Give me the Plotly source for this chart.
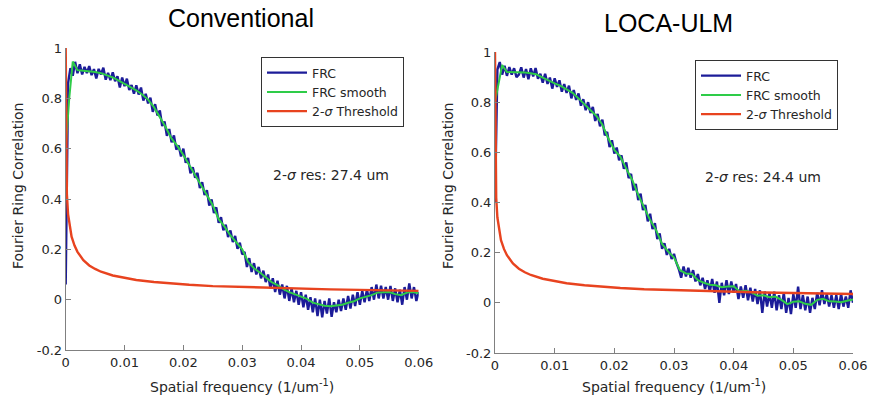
import plotly.graph_objects as go

# ---------------- data ----------------
TITLES = ["Conventional", "LOCA-ULM"]
RES_TEXT = ["2-<i>σ</i> res: 27.4 um", "2-<i>σ</i> res: 24.4 um"]
X_TICKS = [0, 0.01, 0.02, 0.03, 0.04, 0.05, 0.06]
X_TICK_LABELS = ["0", "0.01", "0.02", "0.03", "0.04", "0.05", "0.06"]
Y_TICKS = [-0.2, 0, 0.2, 0.4, 0.6, 0.8, 1]
Y_TICK_LABELS = ["-0.2", "0", "0.2", "0.4", "0.6", "0.8", "1"]

# raw FRC sampled every 0.0004 (1/um) from 0 to 0.06
frc_x = [round(0.0004 * i, 4) for i in range(151)]

frc_conv = [
    0.06, 0.86, 0.92, 0.89, 0.945, 0.90, 0.935, 0.895, 0.925, 0.90,
    0.928, 0.892, 0.916, 0.879, 0.917, 0.895, 0.922, 0.874, 0.901, 0.872,
    0.903, 0.868, 0.888, 0.843, 0.883, 0.848, 0.878, 0.833, 0.853, 0.818,
    0.852, 0.815, 0.843, 0.791, 0.818, 0.78, 0.803, 0.746, 0.777, 0.732,
    0.752, 0.69, 0.708, 0.651, 0.678, 0.625, 0.653, 0.596, 0.613, 0.569,
    0.60, 0.544, 0.563, 0.502, 0.526, 0.485, 0.504, 0.443, 0.467, 0.416,
    0.435, 0.374, 0.398, 0.344, 0.367, 0.305, 0.328, 0.276, 0.298, 0.249,
    0.275, 0.229, 0.253, 0.202, 0.226, 0.18, 0.19, 0.13, 0.165, 0.11,
    0.145, 0.10, 0.13, 0.085, 0.115, 0.07, 0.10, 0.045, 0.085, 0.03,
    0.075, 0.02, 0.06, 0.005, 0.055, -0.005, 0.045, -0.01, 0.035, -0.02,
    0.03, -0.03, 0.02, -0.04, 0.01, -0.05, 0.005, -0.065, 0.0, -0.07,
    -0.005, -0.055, 0.005, -0.068, -0.01, -0.05, 0.0, -0.045, 0.005, -0.04,
    0.015, -0.035, 0.02, -0.025, 0.03, -0.02, 0.035, -0.01, 0.04, -0.005,
    0.05, 0.0, 0.06, 0.005, 0.055, 0.005, 0.05, 0.0, 0.055, -0.005,
    0.045, -0.01, 0.04, -0.02, 0.05, 0.0, 0.065, 0.005, 0.05, -0.005,
    0.03,
]

frc_loca = [
    0.40, 0.93, 0.96, 0.91, 0.945, 0.905, 0.94, 0.91, 0.935, 0.90,
    0.91, 0.939, 0.898, 0.932, 0.891, 0.935, 0.903, 0.936, 0.893, 0.913,
    0.878, 0.913, 0.873, 0.898, 0.854, 0.895, 0.861, 0.887, 0.842, 0.872,
    0.837, 0.866, 0.815, 0.848, 0.809, 0.835, 0.786, 0.812, 0.768, 0.80,
    0.757, 0.781, 0.725, 0.753, 0.704, 0.73, 0.668, 0.681, 0.621, 0.648,
    0.595, 0.619, 0.568, 0.588, 0.534, 0.56, 0.497, 0.514, 0.448, 0.474,
    0.41, 0.435, 0.37, 0.39, 0.325, 0.355, 0.294, 0.318, 0.254, 0.277,
    0.215, 0.238, 0.191, 0.215, 0.175, 0.195, 0.16, 0.135, 0.10, 0.145,
    0.105, 0.14, 0.10, 0.13, 0.085, 0.115, 0.07, 0.10, 0.055, 0.09,
    0.045, 0.095, 0.04, 0.085, 0.0, 0.08, 0.03, 0.09, 0.035, 0.085,
    0.04, 0.075, 0.015, 0.065, 0.02, 0.07, 0.01, 0.06, 0.005, 0.055,
    -0.005, 0.05, -0.04, 0.045, -0.015, 0.04, -0.02, 0.045, -0.03, 0.03,
    -0.025, 0.04, -0.04, 0.02, -0.045, 0.035, -0.02, 0.065, -0.025, 0.03,
    -0.03, 0.025, -0.04, 0.02, -0.025, 0.04, -0.01, 0.05, -0.005, 0.035,
    -0.015, 0.03, -0.02, 0.03, -0.025, 0.035, -0.015, 0.025, -0.02, 0.05,
    0.0,
]

# smoothed FRC
smooth_x = [0, 0.0006, 0.0012, 0.002, 0.003, 0.004, 0.005, 0.006, 0.007, 0.008,
            0.009, 0.010, 0.011, 0.012, 0.013, 0.014, 0.015, 0.016, 0.017, 0.018,
            0.019, 0.020, 0.021, 0.022, 0.023, 0.024, 0.025, 0.026, 0.027, 0.028,
            0.029, 0.030, 0.031, 0.032, 0.033, 0.034, 0.035, 0.036, 0.037, 0.038,
            0.039, 0.040, 0.041, 0.042, 0.043, 0.044, 0.045, 0.046, 0.047, 0.048,
            0.049, 0.050, 0.051, 0.052, 0.053, 0.054, 0.055, 0.056, 0.057, 0.058,
            0.059, 0.060]

smooth_conv = [0.60, 0.80, 0.946, 0.912, 0.91, 0.908, 0.905, 0.90, 0.893, 0.883,
               0.87, 0.858, 0.846, 0.832, 0.815, 0.795, 0.765, 0.727, 0.685, 0.64,
               0.61, 0.575, 0.535, 0.495, 0.455, 0.415, 0.375, 0.32, 0.29, 0.255,
               0.228, 0.20, 0.15, 0.125, 0.108, 0.09, 0.07, 0.058, 0.042, 0.03,
               0.02, 0.012, 0.003, -0.012, -0.018, -0.024, -0.026, -0.022, -0.02, -0.012,
               -0.006, 0.005, 0.01, 0.018, 0.028, 0.03, 0.03, 0.022, 0.018, 0.028,
               0.03, 0.025]

smooth_loca = [0.80, 0.88, 0.948, 0.92, 0.92, 0.92, 0.918, 0.915, 0.91, 0.898,
               0.885, 0.875, 0.865, 0.852, 0.837, 0.815, 0.792, 0.772, 0.745, 0.71,
               0.655, 0.61, 0.583, 0.535, 0.49, 0.43, 0.38, 0.33, 0.29, 0.235,
               0.205, 0.18, 0.13, 0.117, 0.115, 0.09, 0.08, 0.072, 0.07, 0.062,
               0.065, 0.066, 0.045, 0.048, 0.042, 0.028, 0.03, 0.022, 0.025, 0.012,
               -0.005, 0.004, 0.006, -0.004, -0.008, 0.012, 0.016, 0.006, 0.005, 0.002,
               0.008, 0.013]

# 2-sigma threshold curve
thr_x = [0, 0.0001, 0.0002, 0.0004, 0.0007, 0.001, 0.0015, 0.002, 0.003, 0.004,
         0.005, 0.006, 0.008, 0.010, 0.012, 0.015, 0.018, 0.021, 0.025, 0.030,
         0.035, 0.040, 0.045, 0.050, 0.055, 0.060]
thr_y = [1.0, 0.55, 0.42, 0.34, 0.29, 0.25, 0.215, 0.19, 0.157, 0.136,
         0.122, 0.111, 0.096, 0.086, 0.078, 0.070, 0.064, 0.059, 0.054, 0.050,
         0.046, 0.043, 0.041, 0.039, 0.037, 0.035]

# ---------------- styling ----------------
W, H = 870, 406
BLUE, GREEN, RED = "#1c1c99", "#2ecc48", "#e8431f"
FONT = "DejaVu Sans"
TXT = "#262626"
AX = "#808080"

panels = [
    dict(frc=frc_conv, smooth=smooth_conv, px=(65.7, 418.7), py=(48, 350),
         title_xy=(241, 18), res_xy=(331, 175), leg_xy=(261, 57), ylab_x=18),
    dict(frc=frc_loca, smooth=smooth_loca, px=(495, 853), py=(52, 353),
         title_xy=(668, 23), res_xy=(763, 177), leg_xy=(695, 60), ylab_x=448),
]

fig = go.Figure()
annotations = []
for k, p in enumerate(panels):
    sfx = "" if k == 0 else str(k + 1)
    leg = "legend" if k == 0 else "legend2"
    xa, ya = "x" + sfx, "y" + sfx
    fig.add_trace(go.Scatter(x=frc_x, y=p["frc"], mode="lines", name="FRC",
                             line=dict(color=BLUE, width=2.4), xaxis=xa, yaxis=ya, legend=leg))
    fig.add_trace(go.Scatter(x=smooth_x, y=p["smooth"], mode="lines", name="FRC smooth",
                             line=dict(color=GREEN, width=2), xaxis=xa, yaxis=ya, legend=leg))
    fig.add_trace(go.Scatter(x=thr_x, y=thr_y, mode="lines", name="2-<i>σ</i> Threshold",
                             line=dict(color=RED, width=2.4), xaxis=xa, yaxis=ya, legend=leg))

    xdom = [p["px"][0] / W, p["px"][1] / W]
    ydom = [1 - p["py"][1] / H, 1 - p["py"][0] / H]
    axis_common = dict(showgrid=False, zeroline=False, showline=True, linecolor=AX,
                       linewidth=1, ticks="inside", ticklen=5, tickcolor=AX,
                       tickfont=dict(family=FONT, size=13, color=TXT), mirror=False,
                       automargin=False)
    fig.update_layout(**{
        "xaxis" + sfx: dict(domain=xdom, range=[0, 0.06], tickvals=X_TICKS,
                            ticktext=X_TICK_LABELS, anchor=ya, **axis_common),
        "yaxis" + sfx: dict(domain=ydom, range=[-0.2, 1], tickvals=Y_TICKS,
                            ticktext=Y_TICK_LABELS, anchor=xa, **axis_common),
        leg: dict(x=p["leg_xy"][0] / W, y=1 - p["leg_xy"][1] / H, xanchor="left",
                  yanchor="top", bgcolor="white", bordercolor="#333333", borderwidth=1,
                  font=dict(family=FONT, size=12.5, color=TXT), tracegroupgap=0,
                  itemwidth=40),
    })

    annotations.append(dict(x=p["title_xy"][0] / W, y=1 - p["title_xy"][1] / H,
                            xref="paper", yref="paper", text=TITLES[k], showarrow=False,
                            font=dict(family="Liberation Sans", size=25, color="black"),
                            xanchor="center", yanchor="middle"))
    annotations.append(dict(x=p["res_xy"][0] / W, y=1 - p["res_xy"][1] / H,
                            xref="paper", yref="paper", text=RES_TEXT[k], showarrow=False,
                            font=dict(family=FONT, size=14, color=TXT),
                            xanchor="center", yanchor="middle"))
    annotations.append(dict(x=(p["px"][0] + p["px"][1]) / 2 / W, y=1 - 386 / H,
                            xref="paper", yref="paper",
                            text="Spatial frequency (1/um<sup>-1</sup>)", showarrow=False,
                            font=dict(family=FONT, size=14, color=TXT),
                            xanchor="center", yanchor="middle"))
    annotations.append(dict(x=p["ylab_x"] / W, y=1 - 186 / H, xref="paper", yref="paper",
                            text="Fourier Ring Correlation", showarrow=False, textangle=-90,
                            font=dict(family=FONT, size=14, color=TXT),
                            xanchor="center", yanchor="middle"))

fig.update_layout(width=W, height=H, autosize=False,
                  margin=dict(l=0, r=0, t=0, b=0, pad=0, autoexpand=False),
                  paper_bgcolor="white", plot_bgcolor="white",
                  annotations=annotations, showlegend=True)

fig.write_html("out.html", config={"displayModeBar": False},
               post_script="document.body.style.margin='0';document.body.style.overflow='hidden';")
